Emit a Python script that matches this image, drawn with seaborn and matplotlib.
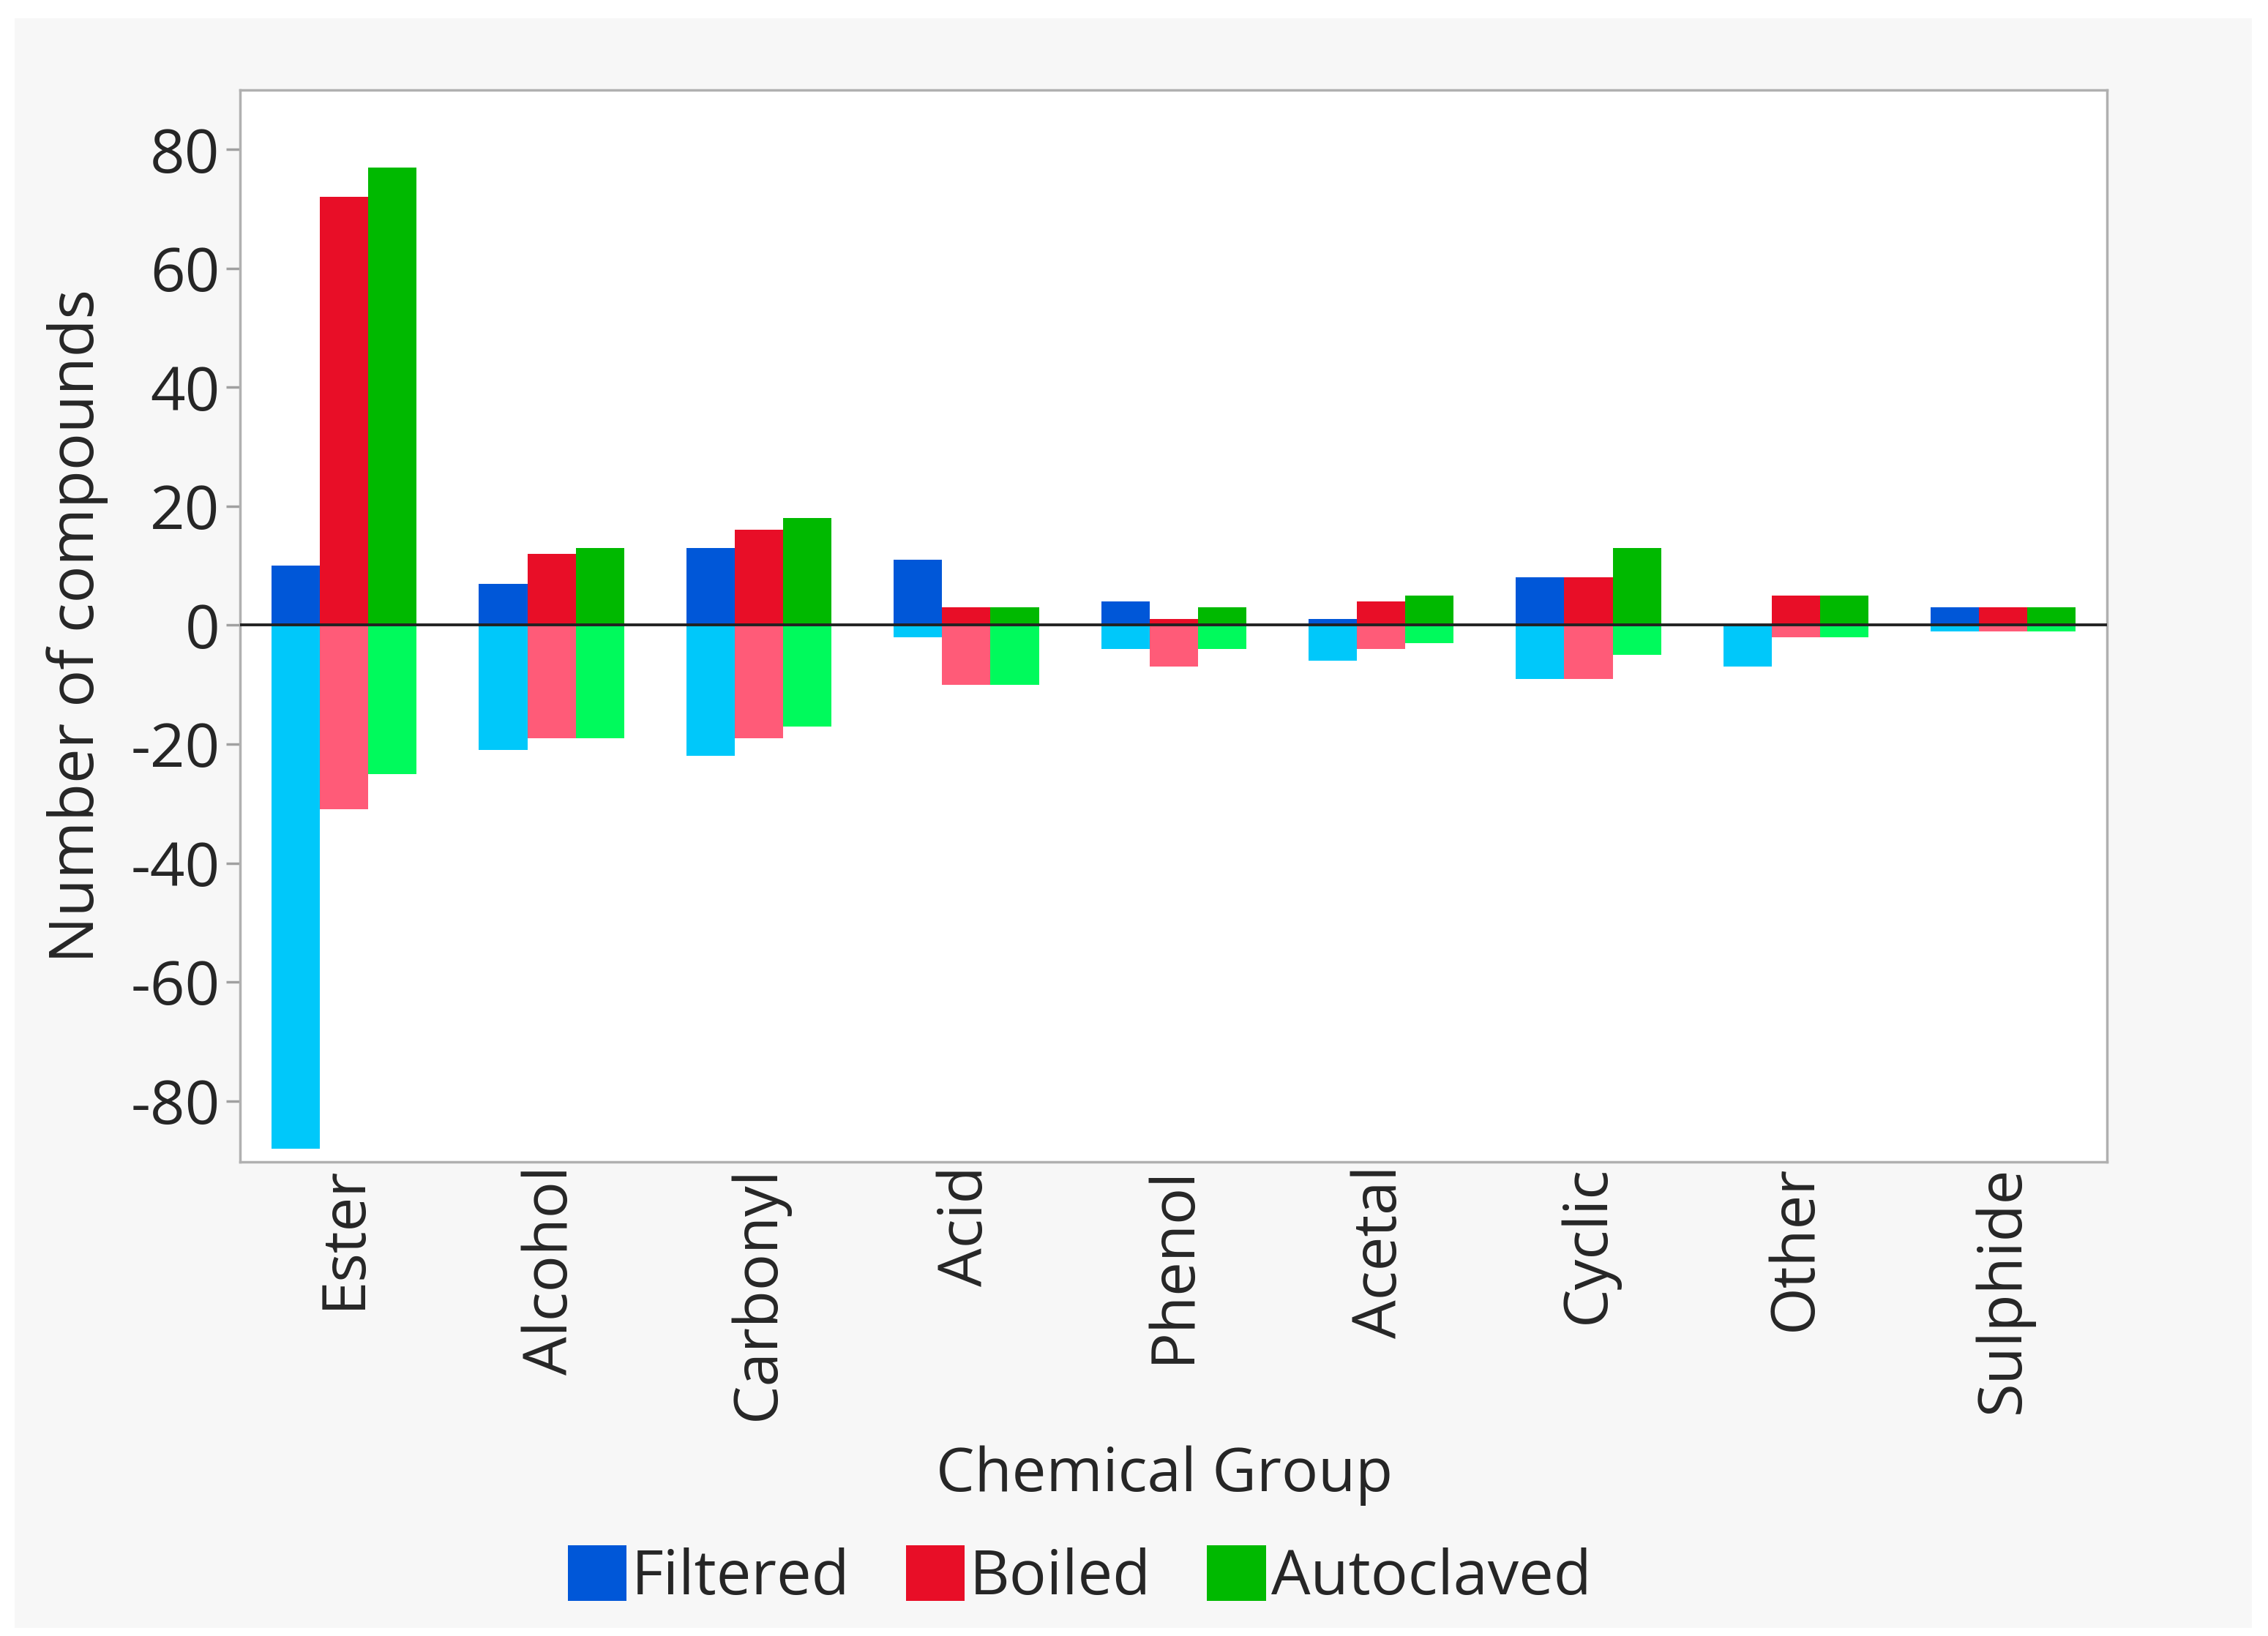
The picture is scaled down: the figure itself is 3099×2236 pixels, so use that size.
import matplotlib
matplotlib.use("Agg")
import matplotlib.pyplot as plt
import seaborn as sns
import pandas as pd
from matplotlib.patches import Rectangle

groups = ["Ester", "Alcohol", "Carbonyl", "Acid", "Phenol", "Acetal", "Cyclic", "Other", "Sulphide"]
conditions = ["Filtered", "Boiled", "Autoclaved"]

filtered_up = [10, 7, 13, 11, 4, 1, 8, 0, 3]
boiled_up = [72, 12, 16, 3, 1, 4, 8, 5, 3]
autoclaved_up = [77, 13, 18, 3, 3, 5, 13, 5, 3]

filtered_down = [-88, -21, -22, -2, -4, -6, -9, -7, -1]
boiled_down = [-31, -19, -19, -10, -7, -4, -9, -2, -1]
autoclaved_down = [-25, -19, -17, -10, -4, -3, -5, -2, -1]

yticks = [-80, -60, -40, -20, 0, 20, 40, 60, 80]

pos_colors = ["#0057d8", "#e80e27", "#00b900"]
neg_colors = ["#00c8fa", "#ff5b78", "#00fa5c"]


def long_df(f, b, a):
    rows = []
    for cond, vals in zip(conditions, [f, b, a]):
        for g, v in zip(groups, vals):
            rows.append({"group": g, "condition": cond, "value": v})
    return pd.DataFrame(rows)


df_up = long_df(filtered_up, boiled_up, autoclaved_up)
df_down = long_df(filtered_down, boiled_down, autoclaved_down)

sns.set_style("white")
plt.rcParams["font.family"] = ["Open Sans", "DejaVu Sans"]

fig = plt.figure(figsize=(30.99, 22.36), dpi=100)
fig.patch.set_facecolor("white")
fig.patches.append(Rectangle((0.0065, 0.005), 0.9865, 0.984, transform=fig.transFigure,
                             facecolor="#f7f7f7", edgecolor="none", zorder=-10))
ax = fig.add_axes([0.106, 0.290, 0.823, 0.655])
ax.set_facecolor("white")

sns.barplot(data=df_up, x="group", y="value", hue="condition", order=groups,
            hue_order=conditions, palette=pos_colors, width=0.7, gap=0,
            saturation=1, linewidth=0, errorbar=None, ax=ax)
sns.barplot(data=df_down, x="group", y="value", hue="condition", order=groups,
            hue_order=conditions, palette=neg_colors, width=0.7, gap=0,
            saturation=1, linewidth=0, errorbar=None, ax=ax, legend=False)

handles, labels = ax.get_legend_handles_labels()
ax.get_legend().remove()

ax.axhline(0, color="#222222", linewidth=2.8, zorder=5)
ax.set_xlim(-0.5, len(groups) - 0.5)
ax.set_ylim(-90.2, 90)
ax.set_yticks(yticks)
ax.set_yticklabels([str(t) for t in yticks])

for s in ax.spines.values():
    s.set_visible(True)
    s.set_color("#b0b0b0")
    s.set_linewidth(2.5)

ax.tick_params(axis="y", which="both", direction="out", length=14, width=2.5,
               color="#a0a0a0", labelsize=60, pad=6, left=True)
ax.tick_params(axis="x", length=0, labelsize=60, pad=4, labelrotation=90)

ax.set_xlabel("Chemical Group", fontsize=60, labelpad=16)
ax.xaxis.set_label_coords(0.495, -0.265)
ax.set_ylabel("Number of compounds", fontsize=61, labelpad=22)

fig.legend(handles, labels, loc="center", bbox_to_anchor=(0.476, 0.036), ncol=3,
           frameon=False, fontsize=61, handlelength=0.95, handleheight=1.0,
           handletextpad=0.08, columnspacing=0.9)

fig.savefig("out.png", dpi=100, facecolor=fig.get_facecolor())
